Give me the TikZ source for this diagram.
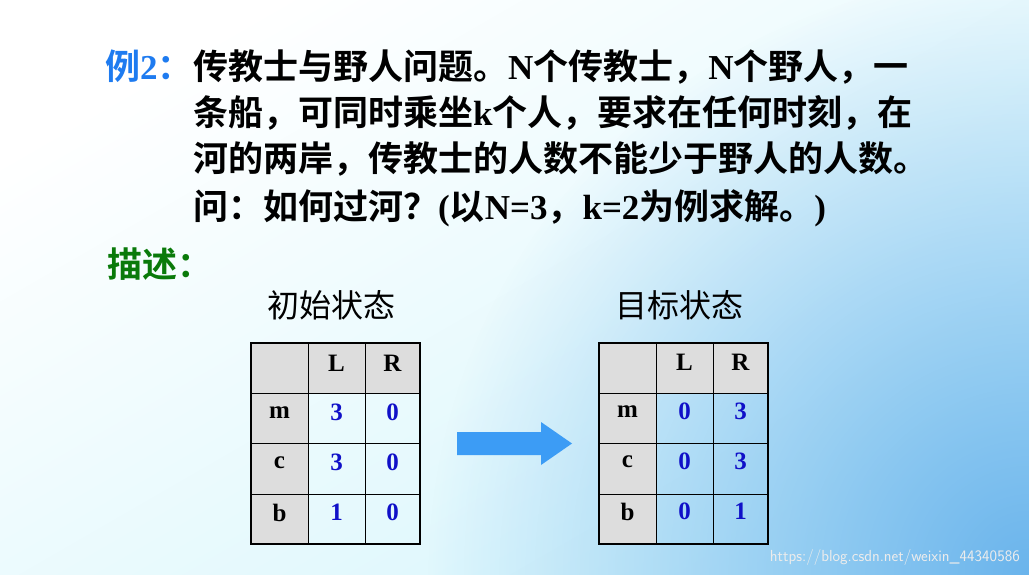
\documentclass[tikz,border=0pt]{standalone}
\usepackage{fontspec}
\usetikzlibrary{fadings}
\setmainfont{Liberation Serif}
\newfontfamily\cjk{Noto Sans CJK SC}[BoldFont=Noto Sans CJK SC Bold]
\newcommand\C[1]{{\cjk #1}}
\tikzfading[name=cornerfade, inner color=transparent!0, outer color=transparent!100]
\definecolor{bgA}{HTML}{FFFFFF}
\definecolor{bgB}{HTML}{D8F6FC}
\definecolor{bgC}{HTML}{6AB4EC}
\definecolor{titleblue}{HTML}{1E7BF0}
\definecolor{descgreen}{HTML}{0A7A0A}
\definecolor{numblue}{HTML}{1010C8}
\definecolor{hdr}{HTML}{DDDDDD}
\definecolor{arrowblue}{HTML}{3C9CF5}
\tikzset{
  main/.style={anchor=base west, inner sep=0pt, font=\fontsize{35}{35}\selectfont\bfseries},
  captext/.style={anchor=center, inner sep=0pt, font=\fontsize{32}{32}\selectfont\cjk},
  cell/.style={font=\fontsize{25}{25}\selectfont\bfseries, inner sep=0pt},
  num/.style={cell, text=numblue},
}
\begin{document}
\begin{tikzpicture}[x=1pt,y=-1pt]
\useasboundingbox (0,0) rectangle (1029,575);
\begin{scope}
\clip (0,0) rectangle (1029,575);
\shade[shading=axis, top color=bgA, bottom color=bgB, shading angle=30] (0,0) rectangle (1029,575);
\fill[bgC, path fading=cornerfade] (429,-25) rectangle (1629,1175);
\end{scope}
\node[main, text=titleblue] (ex) at (105,80) {\C{例}2\C{：}};
\node[main] (l1) at (193,80) {\C{传教士与野人问题。}N\C{个传教士，}N\C{个野人，一}};
\node[main] (l2) at (193,126) {\C{条船，可同时乘坐}k\C{个人，要求在任何时刻，在}};
\node[main] (l3) at (193,172) {\C{河的两岸，传教士的人数不能少于野人的人数。}};
\node[main] (l4) at (193,219) {\C{问：如何过河？}(\C{以}N=3\C{，}k=2\C{为例求解。})};
\node[main, text=descgreen] (desc) at (107,277) {\C{描述：}};
\node[captext] (c1) at (331,305) {初始状态};
\node[captext] (c2) at (679,305) {目标状态};
% left table
\fill[hdr] (251,343) rectangle (420,393);
\fill[hdr] (251,393) rectangle (308,544);
\draw[line width=0.8pt] (308,343) -- (308,544) (365,343) -- (365,544)
  (251,393) -- (420,393) (251,443) -- (420,443) (251,494) -- (420,494);
\draw[line width=2.2pt] (251,343) rectangle (420,544);
\node[cell] (lL) at (336.5,363) {L};
\node[cell] (lR) at (392.5,363) {R};
\node[cell] (lm) at (279.5,413) {m};
\node[cell] (lc) at (279.5,463) {c};
\node[cell] (lb) at (279.5,513) {b};
\node[num] at (336.5,412) {3}; \node[num] at (392.5,412) {0};
\node[num] at (336.5,462) {3}; \node[num] at (392.5,462) {0};
\node[num] at (336.5,512) {1}; \node[num] at (392.5,512) {0};
% right table
\fill[hdr] (599,343) rectangle (768,393);
\fill[hdr] (599,393) rectangle (656,544);
\draw[line width=0.8pt] (656,343) -- (656,544) (713,343) -- (713,544)
  (599,393) -- (768,393) (599,443) -- (768,443) (599,494) -- (768,494);
\draw[line width=2.2pt] (599,343) rectangle (768,544);
\node[cell] (rL) at (684.5,362) {L};
\node[cell] (rR) at (740.5,362) {R};
\node[cell] (rm) at (627.5,412) {m};
\node[cell] (rc) at (627.5,462) {c};
\node[cell] (rb) at (627.5,512) {b};
\node[num] at (684.5,411) {0}; \node[num] at (740.5,411) {3};
\node[num] at (684.5,461) {0}; \node[num] at (740.5,461) {3};
\node[num] at (684.5,511) {0}; \node[num] at (740.5,511) {1};
% arrow
\fill[arrowblue] (457,432) -- (541,432) -- (541,422) -- (572,443.5) -- (541,465) -- (541,455) -- (457,455) -- cycle;
\node[anchor=base east, inner sep=0pt, text=white!85!gray, font=\fontsize{16}{16}\selectfont\sffamily] (wm) at (1020,561) {https://blog.csdn.net/weixin\_44340586};
\end{tikzpicture}
\end{document}
